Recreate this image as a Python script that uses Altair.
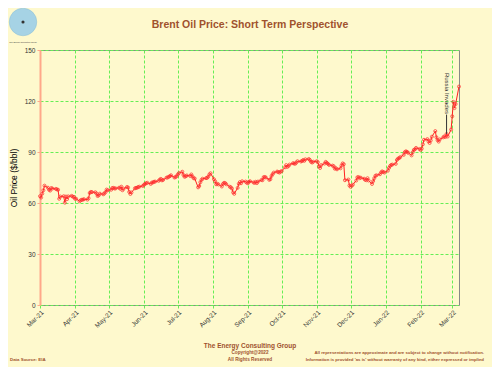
import altair as alt
import pandas as pd

# Brent spot price ($/bbl), business days
mar21 = [64.0, 63.2, 65.5, 67.5, 70.2, 69.0, 67.8, 67.3, 68.8, 68.5, 68.3, 68.0, 67.8, 62.5, 63.8,
         64.0, 60.2, 63.8, 62.3, 63.9, 64.2, 63.7, 63.6]
apr21 = [62.5, 62.5, 61.0, 61.6, 61.9, 62.0, 62.2, 62.0, 62.8, 65.9, 66.5, 66.4, 66.3, 65.6, 64.1,
         64.5, 65.5, 65.1, 65.6, 66.4, 67.9, 67.5]
may21 = [67.8, 68.8, 68.9, 68.5, 68.6, 69.0, 68.4, 69.6, 67.5, 68.4, 69.4, 69.1, 66.5, 65.3, 66.2,
         68.6, 68.9, 69.0, 69.4, 69.6, 70.0]
jun21 = [70.6, 71.3, 71.6, 71.9, 71.2, 72.0, 72.1, 72.5, 72.6, 73.0, 73.7, 74.2, 73.3, 73.6, 74.9,
         75.0, 75.4, 75.8, 76.3, 75.0, 75.2, 75.8]
jul21 = [76.8, 77.6, 78.4, 76.5, 75.4, 75.7, 76.2, 75.9, 76.8, 75.6, 74.6, 74.4, 69.2, 70.0, 72.2,
         73.6, 74.3, 74.6, 74.8, 75.5, 76.8, 77.5]
aug21 = [74.0, 72.8, 71.0, 71.3, 70.9, 69.7, 71.2, 71.9, 71.7, 71.0, 69.6, 69.2, 68.5, 66.2, 65.4,
         68.9, 71.3, 72.3, 71.6, 72.8, 72.6, 72.0]
sep21 = [71.6, 72.5, 72.8, 72.1, 71.8, 72.5, 71.7, 72.6, 73.5, 73.4, 75.2, 75.3, 75.0, 73.6, 74.0,
         75.9, 77.0, 77.9, 78.5, 78.2, 77.9, 78.4]
oct21 = [78.8, 81.0, 82.3, 81.2, 81.8, 82.6, 83.4, 83.2, 83.1, 83.8, 84.6, 84.4, 84.7, 85.3, 84.8,
         85.7, 85.9, 85.3, 84.2, 83.8, 84.3]
nov21 = [84.6, 84.0, 81.5, 80.6, 82.3, 83.2, 84.2, 83.6, 83.0, 82.4, 82.0, 81.7, 80.2, 80.5, 79.8,
         80.4, 82.1, 83.3, 82.8, 73.4, 73.8, 70.3]
dec21 = [69.5, 70.2, 70.8, 73.2, 75.1, 75.3, 74.6, 74.9, 74.3, 73.6, 73.4, 74.6, 73.2, 71.2, 72.9,
         74.6, 76.0, 76.3, 76.9, 78.0, 78.6, 78.2, 77.9]
jan22 = [79.0, 80.6, 81.8, 82.4, 82.6, 83.0, 85.3, 86.1, 86.4, 87.0, 88.3, 89.9, 90.4, 90.1, 89.5,
         88.0, 89.8, 91.2, 91.6, 92.4, 91.8]
feb22 = [91.2, 92.0, 94.5, 97.2, 97.6, 96.2, 95.3, 96.8, 99.0, 102.3, 98.7, 97.0, 96.1, 97.4, 98.6,
         99.2, 98.8, 100.6, 99.1, 103.2]
mar22 = [111.0, 119.5, 115.8, 118.2, 128.5]

months = ["2021-03", "2021-04", "2021-05", "2021-06", "2021-07", "2021-08", "2021-09",
          "2021-10", "2021-11", "2021-12", "2022-01", "2022-02", "2022-03"]
series = [mar21, apr21, may21, jun21, jul21, aug21, sep21, oct21, nov21, dec21, jan22, feb22, mar22]

y_ticks = [0, 30, 60, 90, 120, 150]
event_date = "2022-02-24"
event_label = "Russia Invades"
event_text_top = 136.5
event_line = [112.0, 100.6]

title_text = "Brent Oil Price: Short Term Perspective"
footer_company = "The Energy Consulting Group"
footer_copy = "Copyright@2022"
footer_rights = "All Rights Reserved"
footer_source = "Data Source: EIA"
disclaimer1 = "All representations are approximate and are subject to change without notification."
disclaimer2 = "Information is provided 'as is' without warranty of any kind, either expressed or implied"
logo_text = "The Energy Consulting Group"

dates, prices = [], []
for ym, vals in zip(months, series):
    start = pd.Timestamp(ym + "-01")
    d = pd.bdate_range(start, start + pd.offsets.MonthEnd(0))[:len(vals)]
    dates.extend(d)
    prices.extend(vals)
df = pd.DataFrame({"date": dates, "price": prices})

BG = "#FEF9CD"
GRID = "#66EE55"
BROWN = "#A0522D"
SALMON = "#FFA88A"
W, H = 419, 255
LEFT, TOP = 40, 50  # plot origin in page pixels

month_ticks = [alt.DateTime(year=int(m[:4]), month=int(m[5:]), date=1) for m in months]

x_enc = alt.X("date:T",
              scale=alt.Scale(domain=[alt.DateTime(year=2021, month=3, date=1),
                                      alt.DateTime(year=2022, month=3, date=7)]),
              axis=alt.Axis(values=month_ticks, tickCount=30, format="%b-%y", labelAngle=-45,
                            title=None, labelOverlap=False, labelBound=False,
                            grid=True, gridColor=GRID, gridDash=[3, 2], gridWidth=1,
                            domain=False, tickColor=GRID, tickSize=3,
                            labelFontSize=6.5, labelColor="#333333", labelPadding=1))
y_enc = alt.Y("price:Q", scale=alt.Scale(domain=[0, 150], nice=False, zero=True),
              axis=alt.Axis(values=y_ticks, tickCount=10, title="Oil Price ($/bbl)", titleFontSize=8.5,
                            titleFontWeight="normal", titleColor="black", titlePadding=6,
                            domainColor=SALMON, domainWidth=2, tickColor=SALMON, tickSize=3,
                            labelFontSize=6.5, labelColor="#333333", labelPadding=2,
                            grid=True, gridColor=GRID, gridDash=[3, 2], gridWidth=1))

line = alt.Chart(df).mark_line(color="#FF2020", strokeWidth=1).encode(x=x_enc, y=y_enc)
pts = alt.Chart(df).mark_point(shape="circle", filled=False, color="#FF3030", size=9,
                               strokeWidth=0.9, opacity=0.85).encode(x="date:T", y="price:Q")

ev = pd.DataFrame({"date": [pd.Timestamp(event_date)], "top": [event_text_top],
                   "y1": [event_line[0]], "y2": [event_line[1]], "label": [event_label]})
ev_text = alt.Chart(ev).mark_text(angle=90, align="left", baseline="middle", fontSize=6,
                                  color="#333333").encode(x="date:T", y="top:Q", text="label:N")
ev_rule = alt.Chart(ev).mark_rule(color="#333333", strokeWidth=1).encode(
    x="date:T", y="y1:Q", y2="y2:Q")


def label(txt, px, py, size, align="center", bold=False, color=BROWN):
    return alt.Chart(pd.DataFrame({"t": [txt]})).mark_text(
        align=align, baseline="middle", fontSize=size, color=color,
        fontWeight="bold" if bold else "normal").encode(
        x=alt.value(px - LEFT), y=alt.value(py - TOP), text="t:N")


LOGO_X, LOGO_Y = 23, 22
logo = alt.Chart(pd.DataFrame({"t": [1]})).mark_circle(
    size=760, color="#A6D3E5", opacity=1, stroke="#8BBFD4", strokeWidth=0.5).encode(
    x=alt.value(LOGO_X - LEFT), y=alt.value(LOGO_Y - TOP))
logo_ring = alt.Chart(pd.DataFrame({"t": [1]})).mark_circle(
    size=260, opacity=0, stroke="#6F9FB5", strokeWidth=0.5, strokeDash=[4, 3]).encode(
    x=alt.value(LOGO_X - LEFT), y=alt.value(LOGO_Y - TOP))
logo_c = alt.Chart(pd.DataFrame({"t": [1]})).mark_circle(size=10, color="#333333", opacity=1).encode(
    x=alt.value(LOGO_X - LEFT), y=alt.value(LOGO_Y - TOP))

texts = [
    label(title_text, 250, 25, 10.5, bold=True),
    label(footer_company, 250, 345.5, 6.5, bold=True),
    label(footer_copy, 250, 352.7, 4.7, bold=True),
    label(footer_rights, 250, 360, 4.7, bold=True),
    label(footer_source, 10, 360, 4.4, align="left", bold=True),
    label(disclaimer1, 484, 352.7, 4.3, align="right", bold=True),
    label(disclaimer2, 484, 360, 4.3, align="right", bold=True),
    label(logo_text, LOGO_X, 42, 2.1, color="#333333"),
]

chart = alt.layer(line, pts, ev_rule, ev_text, logo, logo_ring, logo_c, *texts).properties(
    width=W, height=H, background=BG, autosize="none",
    padding={"left": LEFT - 8, "top": TOP - 8, "right": 484 - (LEFT - 8) - W,
             "bottom": 359 - (TOP - 8) - H},
).configure(font="Liberation Sans").configure_view(stroke="#888888", strokeWidth=1)

chart.save("out.html", embed_options={"renderer": "svg", "actions": False})
